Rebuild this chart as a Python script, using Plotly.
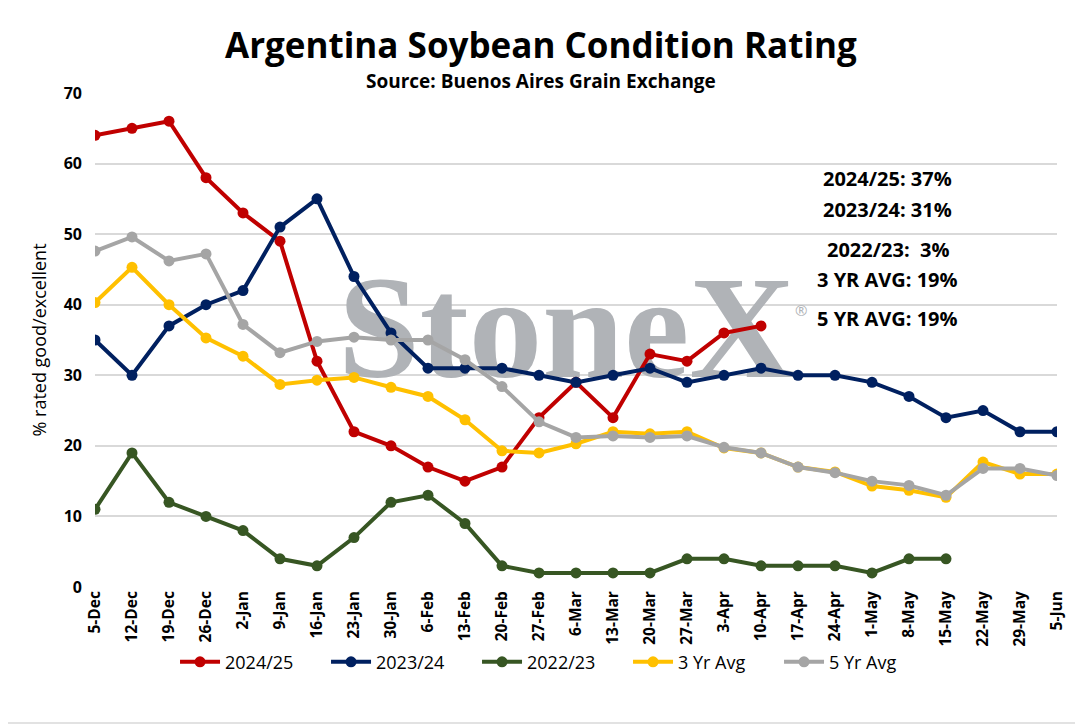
import plotly.graph_objects as go

# === Data ===
weeks = ['5-Dec', '12-Dec', '19-Dec', '26-Dec', '2-Jan', '9-Jan', '16-Jan', '23-Jan',
         '30-Jan', '6-Feb', '13-Feb', '20-Feb', '27-Feb', '6-Mar', '13-Mar', '20-Mar',
         '27-Mar', '3-Apr', '10-Apr', '17-Apr', '24-Apr', '1-May', '8-May', '15-May',
         '22-May', '29-May', '5-Jun']

y2024_25 = [64, 65, 66, 58, 53, 49, 32, 22, 20, 17, 15, 17, 24, 29, 24, 33, 32, 36, 37]
y2023_24 = [35, 30, 37, 40, 42, 51, 55, 44, 36, 31, 31, 31, 30, 29, 30, 31, 29, 30, 31,
            30, 30, 29, 27, 24, 25, 22, 22]
y2022_23 = [11, 19, 12, 10, 8, 4, 3, 7, 12, 13, 9, 3, 2, 2, 2, 2, 4, 4, 3, 3, 3, 2, 4, 4]
avg3 = [40.3, 45.3, 40.0, 35.3, 32.7, 28.7, 29.3, 29.7, 28.3, 27.0, 23.7, 19.3, 19.0, 20.3,
        22.0, 21.7, 22.0, 19.7, 19.0, 17.0, 16.3, 14.3, 13.7, 12.7, 17.7, 16.0, 16.0]
avg5 = [47.6, 49.6, 46.2, 47.2, 37.2, 33.2, 34.8, 35.4, 35.0, 35.0, 32.2, 28.4, 23.4, 21.2,
        21.4, 21.2, 21.4, 19.8, 19.0, 17.0, 16.2, 15.0, 14.4, 13.0, 16.8, 16.8, 15.8]

series = [
    ('2024/25', y2024_25, '#c00000'),
    ('2023/24', y2023_24, '#002060'),
    ('2022/23', y2022_23, '#375623'),
    ('3 Yr Avg', avg3, '#ffc000'),
    ('5 Yr Avg', avg5, '#a5a5a5'),
]

latest = ['2024/25: 37%', '2023/24: 31%', '2022/23:  3%', '3 YR AVG: 19%', '5 YR AVG: 19%']
latest_y = [0.826, 0.765, 0.684, 0.623, 0.544]

idx = list(range(len(weeks)))
font = 'Open Sans'

fig = go.Figure()

# watermark, drawn first so it sits under the lines
fig.add_trace(go.Scatter(
    x=[12.75], y=[35], mode='text', text=['StoneX'], showlegend=False, hoverinfo='skip',
    textfont=dict(family='Liberation Serif', size=147, color='#b0b3b7', weight='bold'),
))

for name, vals, color in series:
    fig.add_trace(go.Scatter(
        x=idx[:len(vals)], y=vals, name=name, mode='lines+markers',
        line=dict(color=color, width=4),
        marker=dict(color=color, size=11),
    ))

for txt, yy in zip(latest, latest_y):
    fig.add_annotation(text=txt, xref='paper', yref='paper', x=0.824, y=yy,
                       showarrow=False, xanchor='center', yanchor='middle',
                       font=dict(family=font, size=20, color='black', weight='bold'))

fig.add_annotation(text='®', xref='paper', yref='paper', x=0.742, y=0.561, showarrow=False,
                   font=dict(family=font, size=15, color='#b0b3b7'))

# title and subtitle (centred on the whole chart, not the plot area)
fig.add_annotation(text='Argentina Soybean Condition Rating', xref='paper', yref='paper',
                   x=0.4636, y=(579 - 37) / 494, showarrow=False, yanchor='middle',
                   font=dict(family=font, size=35, color='black', weight='bold'))
fig.add_annotation(text='Source: Buenos Aires Grain Exchange', xref='paper', yref='paper',
                   x=0.4636, y=(579 - 73) / 494, showarrow=False, yanchor='middle',
                   font=dict(family=font, size=19, color='black', weight='bold'))

fig.update_layout(
    width=1075, height=717,
    margin=dict(l=87, r=26, t=85, b=138),
    paper_bgcolor='white', plot_bgcolor='white',
    xaxis=dict(
        range=[0, len(weeks) - 1], tickmode='array', tickvals=idx, ticktext=weeks,
        tickangle=-90, showgrid=False, zeroline=False, showline=False, ticks='',
        tickfont=dict(family=font, size=15.5, color='black', weight='bold'),
    ),
    yaxis=dict(
        range=[0, 70], dtick=10, showgrid=True, gridcolor='#d9d9d9', gridwidth=1.5,
        zeroline=False, showline=False, ticks='', ticklabelstandoff=12,
        tickfont=dict(family=font, size=16, color='black', weight='bold'),
        title=dict(text='% rated good/excellent', standoff=12,
                   font=dict(family=font, size=18, color='black')),
    ),
    legend=dict(
        orientation='h', x=0.4756, xanchor='center', y=-0.152, yanchor='middle',
        font=dict(family=font, size=18, color='black'), itemwidth=40,
        entrywidth=96, entrywidthmode='pixels', bgcolor='rgba(0,0,0,0)',
    ),
    shapes=[dict(type='rect', xref='paper', yref='paper',
                 x0=(-7 - 87) / 962, x1=(1073 - 87) / 962,
                 y0=(579 - 715) / 494, y1=(579 + 7) / 494,
                 line=dict(color='#d9d9d9', width=1.5))],
)

fig.write_html('out.html')
